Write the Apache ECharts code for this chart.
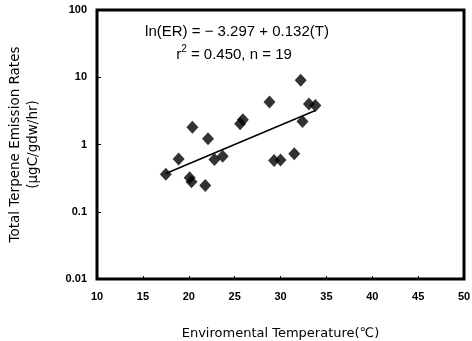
<!DOCTYPE html>
<html>
<head>
<meta charset="utf-8">
<script src="https://cdn.jsdelivr.net/npm/echarts@6/dist/echarts.min.js"></script>
<style>
  html, body { margin: 0; padding: 0; background: #fff; }
  #chart { width: 472px; height: 341px; }
</style>
</head>
<body>
<div id="chart"></div>
<script>
// Measured points: temperature (°C) vs total terpene emission rate
const temps = [17.5, 18.9, 20.1, 20.3, 21.8, 20.4, 22.1, 22.8, 23.7, 25.6,
               25.9, 28.8, 29.3, 30.0, 31.5, 32.2, 32.4, 33.1, 33.8];
const rates = [0.36, 0.61, 0.32, 0.28, 0.245, 1.8, 1.22, 0.6, 0.67, 2.04,
               2.34, 4.28, 0.58, 0.59, 0.73, 9.0, 2.2, 4.0, 3.8];

// Regression line endpoints
const fitT = [17.5, 33.8];
const fitER = [0.37, 3.2];

const xTicks = [10, 15, 20, 25, 30, 35, 40, 45, 50];
const yTicks = ['0.01', '0.1', '1', '10', '100'];

const font = 'Liberation Sans, Arial, sans-serif';
const titleFont = 'DejaVu Sans, sans-serif';

const chart = echarts.init(document.getElementById('chart'));
const option = {
    animation: false,
    grid: {
        left: 97,
        right: 8,
        top: 10,
        bottom: 62,
        containLabel: false,
        outerBoundsMode: 'none',
        show: true,
        borderColor: '#000',
        borderWidth: 3,
        backgroundColor: 'transparent'
    },
    xAxis: {
        type: 'value',
        min: xTicks[0],
        max: xTicks[xTicks.length - 1],
        interval: 5,
        axisLine: { show: false },
        axisTick: { show: true, inside: true, length: 3, lineStyle: { color: '#000' } },
        splitLine: { show: false },
        axisLabel: {
            color: '#000',
            fontFamily: font,
            fontSize: 11,
            fontWeight: 'bold',
            margin: 12
        },
        name: 'Enviromental Temperature(\u2103)',
        nameLocation: 'middle',
        nameGap: 48,
        nameTextStyle: { color: '#000', fontFamily: titleFont, fontSize: 13 }
    },
    yAxis: {
        type: 'log',
        logBase: 10,
        min: 0.01,
        max: 100,
        axisLine: { show: false },
        axisTick: { show: true, inside: true, length: 4, lineStyle: { color: '#000' } },
        splitLine: { show: false },
        axisLabel: {
            color: '#000',
            fontFamily: font,
            fontSize: 11,
            fontWeight: 'bold',
            margin: 10,
            formatter: (v) => {
                const lbl = yTicks.find(t => Math.abs(parseFloat(t) - v) / v < 1e-6);
                return lbl || '';
            }
        },
        name: 'Total Terpene Emission Rates\n(\u03bcgC/gdw/hr)',
        nameLocation: 'middle',
        nameGap: 55,
        nameTextStyle: { color: '#000', fontFamily: titleFont, fontSize: 13.5, lineHeight: 18 }
    },
    graphic: [
        {
            type: 'text',
            x: 237,
            y: 24,
            style: {
                text: 'ln(ER) = \u2212 3.297 + 0.132(T)',
                fill: '#000',
                font: '15px ' + font,
                textAlign: 'center'
            }
        },
        {
            type: 'text',
            x: 234,
            y: 44,
            style: {
                text: '{a|r}{s|2}{a| = 0.450, n = 19}',
                fill: '#000',
                textAlign: 'center',
                rich: {
                    a: { fontFamily: font, fontSize: 15, fill: '#000', verticalAlign: 'bottom' },
                    s: { fontFamily: font, fontSize: 10, fill: '#000', padding: [0, 0, 8, 0] }
                }
            }
        }
    ],
    series: [
        {
            type: 'line',
            data: fitT.map((t, i) => [t, fitER[i]]),
            symbol: 'none',
            lineStyle: { color: '#000', width: 1.5 },
            z: 1
        },
        {
            type: 'scatter',
            data: temps.map((t, i) => [t, rates[i]]),
            symbol: 'diamond',
            symbolSize: [12, 13],
            itemStyle: { color: '#000' },
            z: 2
        }
    ]
};
chart.setOption(option);
</script>
</body>
</html>
